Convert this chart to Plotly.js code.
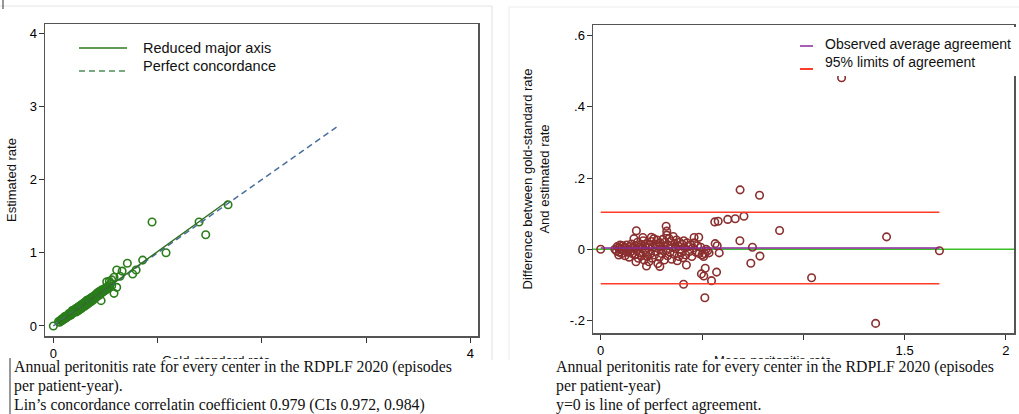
<!DOCTYPE html>
<html>
<head>
<meta charset="utf-8">
<script src="https://cdn.plot.ly/plotly-3.0.1.min.js"></script>
<style>html,body{margin:0;padding:0;background:#fff;}#chart{width:1019px;height:414px;}</style>
</head>
<body>
<div id="chart"></div>
<script>
// ---------- Data: left panel (concordance plot) ----------
var goldRate = [0,0.05,0.06,0.07,0.08,0.08,0.09,0.10,0.10,0.11,0.11,0.12,0.12,0.13,0.13,0.14,0.14,0.15,0.15,0.16,0.16,0.17,0.17,0.18,0.18,0.18,0.19,0.19,0.20,0.20,0.21,0.21,0.22,0.22,0.22,0.23,0.23,0.24,0.24,0.24,0.25,0.25,0.25,0.26,0.26,0.27,0.27,0.27,0.28,0.28,0.28,0.29,0.29,0.30,0.30,0.30,0.31,0.31,0.32,0.32,0.32,0.33,0.33,0.34,0.34,0.34,0.35,0.35,0.36,0.36,0.36,0.37,0.37,0.38,0.38,0.38,0.39,0.39,0.40,0.40,0.41,0.41,0.42,0.42,0.43,0.43,0.44,0.44,0.45,0.45,0.46,0.46,0.47,0.47,0.48,0.48,0.49,0.50,0.50,0.51,0.52,0.53,0.54,0.55,0.56,
  0.947,1.398,1.462,1.676,1.081,0.857,0.710,0.608,0.660,0.794,0.761,0.582,0.537,0.608,0.582,0.458,0.512,0.560,0.640,
  0.07,0.09,0.12,0.15,0.17,0.20,0.23,0.26,0.29,0.31,0.33,0.35,0.37,0.39,0.41,0.43,0.44,0.46,0.49,0.52];
var estRate  = [0,0.06,0.05,0.08,0.07,0.09,0.10,0.09,0.11,0.10,0.13,0.12,0.11,0.14,0.12,0.13,0.15,0.14,0.17,0.15,0.16,0.18,0.15,0.17,0.19,0.21,0.18,0.20,0.19,0.22,0.20,0.23,0.21,0.24,0.19,0.22,0.25,0.23,0.26,0.21,0.24,0.27,0.22,0.25,0.28,0.26,0.29,0.24,0.27,0.30,0.26,0.28,0.31,0.29,0.32,0.27,0.30,0.33,0.31,0.35,0.29,0.32,0.34,0.33,0.36,0.31,0.34,0.37,0.35,0.38,0.33,0.36,0.39,0.37,0.40,0.35,0.38,0.41,0.39,0.42,0.40,0.43,0.41,0.45,0.42,0.44,0.43,0.47,0.44,0.46,0.45,0.49,0.46,0.48,0.47,0.50,0.48,0.49,0.52,0.50,0.51,0.55,0.53,0.58,0.55,
  1.420,1.420,1.247,1.657,1.000,0.900,0.856,0.765,0.750,0.765,0.710,0.665,0.610,0.528,0.446,0.346,0.605,0.630,0.680,
  0.08,0.08,0.13,0.16,0.16,0.21,0.24,0.27,0.28,0.32,0.35,0.34,0.38,0.40,0.39,0.45,0.42,0.47,0.50,0.51];
// Reduced major axis line end points
var rmaX = [0.03, 1.673];
var rmaY = [0.02, 1.708];
// Perfect concordance line end points
var perfX = [0, 2.74];
var perfY = [0, 2.74];

// ---------- Data: right panel (Bland-Altman plot) ----------
var meanRate = [0,0.688,0.784,0.707,0.664,0.627,0.580,0.563,0.883,0.687,0.749,0.786,0.741,0.585,0.565,0.575,0.516,0.497,0.509,0.547,0.572,0.514,0.409,1.041,1.189,1.411,1.672,1.357,0.423,0.323,0.176,0.326,0.208,0.250,0.484,0.461,0.226,0.292,0.174,0.089,
  0.070,0.078,0.082,0.088,0.092,0.096,0.100,0.104,0.108,0.112,0.116,0.120,0.124,0.128,0.132,0.136,0.140,0.144,0.148,0.152,0.156,0.160,0.164,0.168,0.172,0.178,0.182,0.186,0.190,0.194,0.198,0.202,0.206,0.210,0.214,0.218,0.222,0.226,0.230,0.234,0.238,0.242,0.246,0.250,0.254,0.258,0.262,0.266,0.270,0.274,0.278,0.282,0.286,0.290,0.294,0.298,0.302,0.306,0.310,0.314,0.318,0.322,0.326,0.330,0.334,0.338,0.342,0.346,0.350,0.354,0.358,0.362,0.366,0.370,0.374,0.378,0.382,0.386,0.390,0.394,0.398,0.402,0.406,0.410,0.414,0.420,0.426,0.432,0.438,0.444,0.450,0.456,0.462,0.470,0.478,0.486,0.494,0.500,0.508,0.514,0.520,0.528,0.535];
var diffRate = [0,0.167,0.152,0.093,0.086,0.084,0.079,0.077,0.053,0.024,0.006,-0.019,-0.039,-0.010,0.016,0.010,-0.053,-0.069,-0.075,-0.088,-0.064,-0.136,-0.098,-0.080,0.482,0.035,-0.004,-0.208,-0.044,0.065,0.052,0.051,0.033,0.034,0.034,0.033,-0.047,-0.048,-0.035,-0.016,
  0.000,-0.005,0.008,0.004,-0.008,0.012,0.002,-0.012,0.010,-0.004,0.006,-0.018,0.003,0.012,-0.008,0.000,-0.022,0.008,-0.006,0.015,-0.012,0.004,0.030,-0.015,0.010,-0.004,0.020,-0.025,0.006,-0.010,0.014,-0.018,0.002,0.024,-0.030,0.010,-0.008,0.016,-0.020,0.004,-0.035,0.012,-0.012,0.022,-0.025,0.006,0.030,-0.016,0.014,-0.006,0.026,-0.040,0.008,-0.022,0.018,0.000,-0.012,0.028,0.010,-0.030,0.020,-0.004,0.040,-0.018,0.012,0.030,-0.008,0.022,-0.028,0.006,0.036,-0.014,0.016,0.002,0.026,-0.032,0.010,-0.020,0.020,0.000,-0.010,0.014,-0.024,0.024,0.004,-0.016,0.018,0.008,-0.006,0.012,-0.020,0.004,0.018,-0.008,0.010,-0.012,0.006,-0.016,-0.020,-0.012,0.000,-0.004,-0.010];
// Agreement lines
var agreeX = [0, 1.672];
var meanDiff = 0.004;
var upperLoA = 0.104;
var lowerLoA = -0.097;

// Tick labels
var leftXTicks = [0,1,2,3,4], leftXText = ['0','','','','4'];
var leftYTicks = [0,1,2,3,4], leftYText = ['0','1','2','3','4'];
var rightXTicks = [0,0.5,1,1.5,2], rightXText = ['0','','','1.5','2'];
var rightYTicks = [-0.2,0,0.2,0.4,0.6], rightYText = ['-.2','0','.2','.4','.6'];

// ---------- helpers for pixel placement ----------
var W = 1019, H = 414;
function px(x){ return x / W; }
function py(y){ return 1 - y / H; }

var FONT = 'Liberation Sans, Arial, sans-serif';
var SERIF = 'Liberation Serif, Times New Roman, serif';
var greenMk = '#2b7d1b', maroon = '#8b2e2e';

var traces = [
  {x: goldRate, y: estRate, type: 'scatter', mode: 'markers', name: 'Centers', showlegend: false,
   marker: {symbol: 'circle-open', size: 7.5, color: greenMk, line: {width: 1.6, color: greenMk}},
   xaxis: 'x', yaxis: 'y', hoverinfo: 'skip'},
  {x: perfX, y: perfY, type: 'scatter', mode: 'lines', name: 'Perfect concordance', showlegend: false,
   line: {color: '#4a6f9c', width: 1.5, dash: '6px,4px'}, xaxis: 'x', yaxis: 'y'},
  {x: rmaX, y: rmaY, type: 'scatter', mode: 'lines', name: 'Reduced major axis', showlegend: false,
   line: {color: '#2e6e1e', width: 1.4}, xaxis: 'x', yaxis: 'y'},

  {x: meanRate, y: diffRate, type: 'scatter', mode: 'markers', name: 'Centers', showlegend: false,
   marker: {symbol: 'circle-open', size: 7.5, color: maroon, line: {width: 1.6, color: maroon}},
   xaxis: 'x2', yaxis: 'y2', hoverinfo: 'skip'},
  {x: agreeX, y: [upperLoA, upperLoA], type: 'scatter', mode: 'lines', name: '95% limits of agreement', showlegend: false,
   line: {color: '#ff3b2a', width: 1.5}, xaxis: 'x2', yaxis: 'y2'},
  {x: agreeX, y: [lowerLoA, lowerLoA], type: 'scatter', mode: 'lines', name: '95% limits of agreement', showlegend: false,
   line: {color: '#ff3b2a', width: 1.5}, xaxis: 'x2', yaxis: 'y2'},
  {x: agreeX, y: [meanDiff, meanDiff], type: 'scatter', mode: 'lines', name: 'Observed average agreement', showlegend: false,
   line: {color: '#8a2a9a', width: 1.5}, xaxis: 'x2', yaxis: 'y2'}
];

function axisCommon(extra){
  var a = {showgrid: false, zeroline: false, showline: true, mirror: true, linecolor: '#555', linewidth: 1.5,
           ticks: 'outside', ticklen: 5, tickcolor: '#333', tickwidth: 1,
           tickfont: {family: FONT, size: 13, color: '#000'}, tickmode: 'array', fixedrange: true};
  for (var k in extra) a[k] = extra[k];
  return a;
}

var layout = {
  width: W, height: H,
  margin: {l: 0, r: 0, t: 0, b: 0},
  paper_bgcolor: '#fff', plot_bgcolor: '#fff',
  showlegend: false,
  font: {family: FONT, color: '#111'},
  xaxis: axisCommon({domain: [px(45), px(478)], range: [-0.08, 4.074], tickvals: leftXTicks, ticktext: leftXText, anchor: 'y'}),
  yaxis: axisCommon({domain: [py(336), py(24)], range: [-0.137, 4.126], tickvals: leftYTicks, ticktext: leftYText, anchor: 'x',
    ticklabelstandoff: -1,
    title: {text: 'Estimated rate', font: {family: FONT, size: 13, color: '#111'}, standoff: 10}}),
  xaxis2: axisCommon({domain: [px(593), px(1014)], range: [-0.038, 2.04], tickvals: rightXTicks, ticktext: rightXText, anchor: 'y2'}),
  yaxis2: axisCommon({domain: [py(333), py(25)], range: [-0.235, 0.630], tickvals: rightYTicks, ticktext: rightYText, anchor: 'x2',
    ticklabelstandoff: -1,
    title: {text: 'Difference between gold-standard rate<br>And estimated rate', font: {family: FONT, size: 13, color: '#111'}, standoff: 17}}),
  shapes: [
    // page borders / artifacts
    {type: 'line', xref: 'paper', yref: 'paper', x0: px(0), x1: px(492), y0: py(6), y1: py(6), line: {color: '#e4e4e4', width: 1}},
    {type: 'line', xref: 'paper', yref: 'paper', x0: px(3), x1: px(3), y0: py(0), y1: py(9), line: {color: '#333', width: 1}},
    {type: 'line', xref: 'paper', yref: 'paper', x0: px(492), x1: px(492), y0: py(6), y1: py(360), line: {color: '#e0e0e0', width: 1}},
    {type: 'line', xref: 'paper', yref: 'paper', x0: px(509), x1: px(1019), y0: py(7), y1: py(7), line: {color: '#ececec', width: 1}},
    {type: 'line', xref: 'paper', yref: 'paper', x0: px(509), x1: px(509), y0: py(7), y1: py(360), line: {color: '#ececec', width: 1}},
    {type: 'line', xref: 'paper', yref: 'paper', x0: px(10), x1: px(10), y0: py(358), y1: py(414), line: {color: '#333', width: 1}},
    // zero line (perfect agreement) on right panel
    {type: 'line', xref: 'x2 domain', yref: 'y2', x0: 0, x1: 1, y0: 0, y1: 0, line: {color: '#3cbf28', width: 1.5}, layer: 'below'},
    // right legend box
    {type: 'rect', xref: 'paper', yref: 'paper', x0: px(795), x1: px(1019), y0: py(76), y1: py(27), fillcolor: '#fff', line: {width: 0}, layer: 'above'},
    {type: 'line', xref: 'paper', yref: 'paper', x0: px(800), x1: px(813), y0: py(46), y1: py(46), line: {color: '#8a2a9a', width: 1.5}, layer: 'above'},
    {type: 'line', xref: 'paper', yref: 'paper', x0: px(800), x1: px(813), y0: py(69), y1: py(69), line: {color: '#ff3b2a', width: 2}, layer: 'above'},
    // left legend samples
    {type: 'line', xref: 'paper', yref: 'paper', x0: px(79), x1: px(127), y0: py(48), y1: py(48), line: {color: '#2e7a1e', width: 1.3}, layer: 'above'},
    {type: 'line', xref: 'paper', yref: 'paper', x0: px(79), x1: px(127), y0: py(71), y1: py(71), line: {color: '#4f8f58', width: 1.3, dash: '6px,4px'}, layer: 'above'}
  ],
  annotations: [
    // legend texts
    {xref: 'paper', yref: 'paper', x: px(141), y: py(48), xanchor: 'left', yanchor: 'middle', showarrow: false,
     text: 'Reduced major axis', font: {family: FONT, size: 14.5, color: '#111'}},
    {xref: 'paper', yref: 'paper', x: px(141), y: py(66), xanchor: 'left', yanchor: 'middle', showarrow: false,
     text: 'Perfect concordance', font: {family: FONT, size: 14.5, color: '#111'}},
    {xref: 'paper', yref: 'paper', x: px(823), y: py(44), xanchor: 'left', yanchor: 'middle', showarrow: false,
     text: 'Observed average agreement', font: {family: FONT, size: 14, color: '#111'}},
    {xref: 'paper', yref: 'paper', x: px(823), y: py(62), xanchor: 'left', yanchor: 'middle', showarrow: false,
     text: '95% limits of agreement', font: {family: FONT, size: 14, color: '#111'}},
    // x-axis titles: only their top edge shows above the captions, as in the source figure (clipped box)
    {xref: 'paper', yref: 'paper', x: px(161), y: py(352), xanchor: 'left', yanchor: 'top', showarrow: false,
     height: 6, valign: 'top', borderpad: 0,
     text: 'Gold-standard rate', font: {family: FONT, size: 13, color: '#111'}},
    {xref: 'paper', yref: 'paper', x: px(713), y: py(352), xanchor: 'left', yanchor: 'top', showarrow: false,
     height: 6, valign: 'top', borderpad: 0,
     text: 'Mean peritonitis rate', font: {family: FONT, size: 13, color: '#111'}},
    // captions
    {xref: 'paper', yref: 'paper', x: px(12), y: py(366.5), xanchor: 'left', yanchor: 'middle', showarrow: false,
     text: 'Annual peritonitis rate for every center in the RDPLF 2020 (episodes', font: {family: SERIF, size: 15.8, color: '#111'}},
    {xref: 'paper', yref: 'paper', x: px(12), y: py(386), xanchor: 'left', yanchor: 'middle', showarrow: false,
     text: 'per patient-year).', font: {family: SERIF, size: 15.8, color: '#111'}},
    {xref: 'paper', yref: 'paper', x: px(12), y: py(405), xanchor: 'left', yanchor: 'middle', showarrow: false,
     text: 'Lin’s concordance correlatin coefficient 0.979 (CIs 0.972, 0.984)', font: {family: SERIF, size: 15.8, color: '#111'}},
    {xref: 'paper', yref: 'paper', x: px(554), y: py(366.5), xanchor: 'left', yanchor: 'middle', showarrow: false,
     text: 'Annual peritonitis rate for every center in the RDPLF 2020 (episodes', font: {family: SERIF, size: 15.8, color: '#111'}},
    {xref: 'paper', yref: 'paper', x: px(554), y: py(386), xanchor: 'left', yanchor: 'middle', showarrow: false,
     text: 'per patient-year)', font: {family: SERIF, size: 15.8, color: '#111'}},
    {xref: 'paper', yref: 'paper', x: px(554), y: py(405), xanchor: 'left', yanchor: 'middle', showarrow: false,
     text: 'y=0 is line of perfect agreement.', font: {family: SERIF, size: 15.8, color: '#111'}}
  ]
};

Plotly.newPlot('chart', traces, layout, {displayModeBar: false, staticPlot: true});
</script>
</body>
</html>
